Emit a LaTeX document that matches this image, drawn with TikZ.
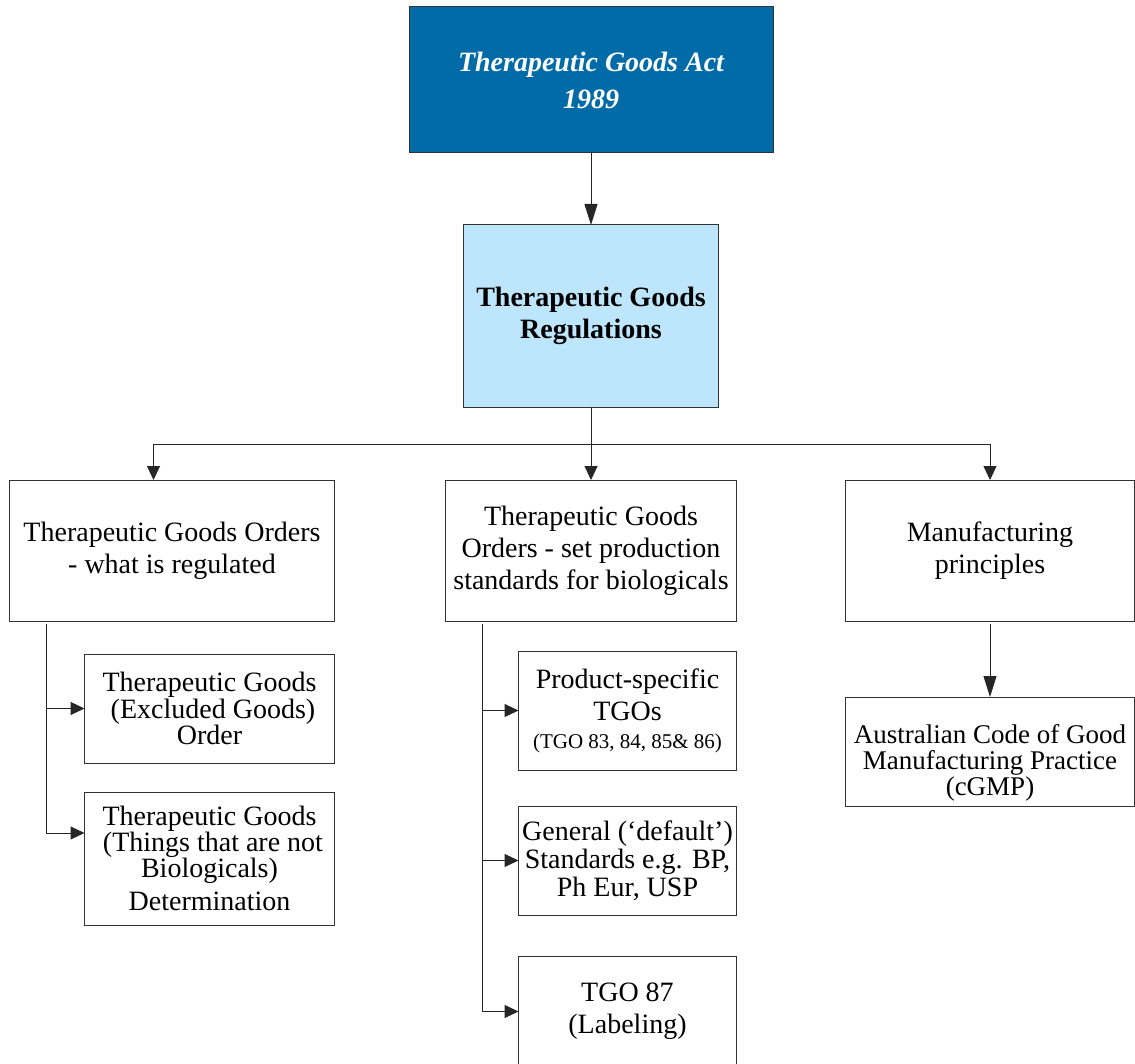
\documentclass[tikz,border=0pt]{standalone}
\usepackage{fontspec}
\setmainfont{Liberation Serif}
\usetikzlibrary{arrows.meta,positioning}
\definecolor{actblue}{RGB}{0,107,166}
\definecolor{regblue}{RGB}{189,229,251}
\tikzset{
  orgbox/.style={rectangle, draw=black!80, line width=1pt, align=center,
                 inner sep=1pt, outer sep=0pt, font=\fontsize{28}{32}\selectfont},
  actbox/.style={orgbox, fill=actblue, text=white,
                 font=\fontsize{28}{37}\selectfont\bfseries\itshape},
  regbox/.style={orgbox, fill=regblue, font=\fontsize{28}{32}\selectfont\bfseries},
  tgobox/.style={orgbox, minimum height=141pt},
  subbox/.style={orgbox, minimum height=109pt},
  flowarr/.style={-{Triangle[length=14pt,width=13pt]}, line width=1pt, draw=black!85},
  longarr/.style={flowarr, -{Triangle[length=21pt,width=13pt]}},
  feedline/.style={line width=1pt, draw=black!85},
}
\begin{document}
\begin{tikzpicture}[x=1pt, y=-1pt]
    \useasboundingbox (0,0) rectangle (1135,1064);
    \node[actbox, minimum width=364pt, minimum height=146pt] (act) at (591,80)
          {Therapeutic Goods Act\\1989};
    \node[regbox, minimum width=255pt, minimum height=182pt, below=72pt of act] (regs)
          {Therapeutic Goods\\Regulations};
    \node[tgobox, minimum width=291pt, below=73pt of regs] (tgob)
          {Therapeutic Goods\\Orders - set production\\standards for biologicals};
    \node[tgobox, minimum width=325pt, left=111pt of tgob] (tgoa)
          {Therapeutic Goods Orders\\- what is regulated};
    \node[tgobox, minimum width=289pt, right=109pt of tgob] (mfg)
          {Manufacturing\\principles};
    \node[subbox, minimum width=289pt, below=76pt of mfg, text height=94pt,
          font=\fontsize{27}{26}\selectfont] (cgmp)
          {Australian Code of Good\\Manufacturing Practice\\(cGMP)};
    % what is regulated
    \node[subbox, minimum width=250pt, below=33pt of tgoa.south east, anchor=north east,
          font=\fontsize{28}{24}\selectfont] (exclg)
          {Therapeutic Goods\\\ (Excluded Goods)\\Order};
    \node[orgbox, minimum width=250pt, minimum height=133pt, below=29pt of exclg,
          font=\fontsize{28}{26}\selectfont] (notbio)
          {Therapeutic Goods\\\ (Things that are not\\Biologicals)\\[7pt]Determination};
    % production standards
    \node[orgbox, minimum width=218pt, minimum height=119pt,
          below=30pt of tgob.south east, anchor=north east] (prodtgo)
          {Product-specific\\TGOs\\[-4pt]{\fontsize{21}{24}\selectfont(TGO 83, 84, 85\& 86)}};
    \node[subbox, minimum width=218pt, below=36pt of prodtgo,
          font=\fontsize{28}{28}\selectfont] (genstd)
          {General (‘default’)\\Standards e.g. BP,\\Ph Eur, USP};
    \node[subbox, minimum width=218pt, minimum height=111pt, below=41pt of genstd] (tgolab)
          {TGO 87\\(Labeling)};
    % connectors
    \draw[longarr] (act) -- (regs);
    \coordinate[below=37pt of regs.south] (split);
    \draw[feedline] (regs) -- (split);
    \draw[flowarr] (split) -| ([xshift=-18.5pt]tgoa.north);
    \draw[flowarr] (split) -- (tgob);
    \draw[flowarr] (split) -| (mfg);
    \draw[longarr] ([yshift=-3pt]mfg.south) -- (cgmp);
    \coordinate (ltrunk) at ([shift={(37pt,-3pt)}]tgoa.south west);
    \draw[flowarr] (ltrunk) |- (exclg);
    \draw[flowarr] (ltrunk) |- ([yshift=25.5pt]notbio.west);
    \coordinate (mtrunk) at ([shift={(37pt,-3pt)}]tgob.south west);
    \draw[flowarr] (mtrunk) |- (prodtgo);
    \draw[flowarr] (mtrunk) |- (genstd);
    \draw[flowarr] (mtrunk) |- (tgolab);
  \end{tikzpicture}
\end{document}
